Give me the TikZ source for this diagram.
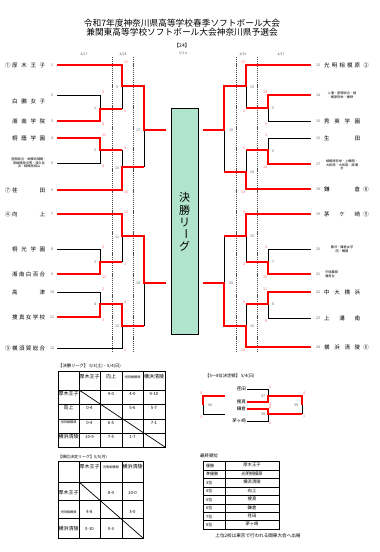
\documentclass[tikz,border=0pt]{standalone}
\usepackage{fontspec}
\setmainfont{Noto Sans CJK JP}
\definecolor{wr}{RGB}{255,0,0}
\definecolor{sc}{RGB}{255,95,95}
\definecolor{mn}{RGB}{95,95,95}
\definecolor{boxg}{RGB}{176,228,204}
\newcommand{\spr}[2]{\makebox[#1][s]{#2}}
\begin{document}
\begin{tikzpicture}[x=1pt,y=-1pt,
  win/.style={draw=wr,line width=1.8pt,line join=miter},
  los/.style={draw=black,line width=0.7pt},
  datesep/.style={draw=black!70,line width=0.6pt,dash pattern=on 1.2pt off 0.9pt},
  tnm/.style={font=\fontsize{5.5}{6}\selectfont,inner sep=0pt,anchor=west},
  tsm/.style={font=\fontsize{3.2}{3.6}\selectfont,inner sep=0pt,align=center},
  seed/.style={font=\fontsize{5.5}{6}\selectfont,inner sep=0pt},
  tno/.style={font=\fontsize{3.6}{4}\selectfont,text=mn,inner sep=0pt},
  mno/.style={font=\fontsize{3.6}{4}\selectfont,text=mn,inner sep=0pt},
  scr/.style={font=\fontsize{3.6}{4}\selectfont,text=sc,inner sep=0pt},
  dt/.style={font=\fontsize{3.4}{4}\selectfont,text=mn,inner sep=0pt},
  cell/.style={font=\fontsize{5}{6}\selectfont,inner sep=0pt},
  cellsm/.style={font=\fontsize{3.2}{4}\selectfont,inner sep=0pt},
  captx/.style={font=\fontsize{4.3}{5}\selectfont,inner sep=0pt,anchor=west},
  grid/.style={draw=black,line width=0.8pt}]
\useasboundingbox (0,0) rectangle (380,552);
\fill[white] (0,0) rectangle (380,552);
% titles
\node[font=\fontsize{8.7}{9}\selectfont,inner sep=0pt] (t1) at (182,23.5) {令和7年度神奈川県高等学校春季ソフトボール大会};
\node[font=\fontsize{8.7}{9}\selectfont,inner sep=0pt] (t2) at (182,32.5) {兼関東高等学校ソフトボール大会神奈川県予選会};
\node[font=\fontsize{5}{6}\selectfont,inner sep=0pt] (t3) at (182,45.5) {【24】};
\node[dt] (d0) at (183,53) {5/3.4};
\node[dt] (d1) at (84,54.5) {4/27};
\node[dt] (d2) at (123,54.5) {4/28};
\node[dt] (d3) at (243,54.5) {4/29};
\node[dt] (d4) at (281,54.5) {4/27};
% date separators
\foreach \x in {112,133,236,257} \draw[datesep] (\x,57) -- (\x,353);
% centre box
\node[draw=black,line width=0.8pt,fill=boxg,minimum width=27pt,minimum height=226pt,inner sep=0pt] (box) at (184.5,221) {};
\node[font=\fontsize{11}{11}\selectfont,inner sep=0pt] (k1) at (184.5,197) {決};
\node[font=\fontsize{11}{11}\selectfont,inner sep=0pt] (k2) at (184.5,210) {勝};
\node[font=\fontsize{11}{11}\selectfont,inner sep=0pt] (k3) at (184.5,222.5) {リ};
\node[font=\fontsize{11}{11}\selectfont,inner sep=0pt,rotate=-90] (k4) at (184.5,234) {ー};
\node[font=\fontsize{11}{11}\selectfont,inner sep=0pt] (k5) at (184.5,246) {グ};
% ---------- left losers (black)
\draw[los] (57,95) -- (100,95) -- (100,109);
\draw[los] (122,86) -- (122,109);
\draw[los] (57,163) -- (100,163) -- (100,150);
\draw[los] (122,150) -- (122,167);
\draw[los] (144,130) -- (144,167);
\draw[los] (57,249) -- (100,249) -- (100,262);
\draw[los] (122,236) -- (122,262);
\draw[los] (57,292) -- (100,292) -- (100,304);
\draw[los] (57,348) -- (122,348) -- (122,326);
\draw[los] (144,283) -- (144,326);
% ---------- right losers (black)
\draw[los] (311,121) -- (268,121) -- (268,108);
\draw[los] (246,86) -- (246,108);
\draw[los] (311,138) -- (268,138) -- (268,150);
\draw[los] (246,150) -- (246,172);
\draw[los] (224,130) -- (224,172);
\draw[los] (311,249) -- (268,249) -- (268,262);
\draw[los] (246,236) -- (246,262);
\draw[los] (311,318) -- (268,318) -- (268,304);
\draw[los] (246,304) -- (246,326);
\draw[los] (224,236) -- (224,283);
% ---------- left winners (red)
\draw[win] (57,65) -- (122,65) -- (122,86) -- (144,86) -- (144,130) -- (166,130);
\draw[win] (57,121) -- (100,121) -- (100,109) -- (122,109);
\draw[win] (57,138) -- (100,138) -- (100,150) -- (122,150);
\draw[win] (57,190) -- (122,190) -- (122,167) -- (144,167);
\draw[win] (57,214) -- (122,214) -- (122,236) -- (144,236) -- (144,283) -- (166,283);
\draw[win] (57,274) -- (100,274) -- (100,262) -- (122,262);
\draw[win] (57,317) -- (100,317) -- (100,304) -- (122,304) -- (122,326) -- (144,326);
% ---------- right winners (red)
\draw[win] (311,65) -- (246,65) -- (246,86) -- (224,86) -- (224,130) -- (203,130);
\draw[win] (311,95) -- (268,95) -- (268,108) -- (246,108);
\draw[win] (311,164) -- (268,164) -- (268,150) -- (246,150);
\draw[win] (311,189) -- (246,189) -- (246,172) -- (224,172);
\draw[win] (311,214) -- (246,214) -- (246,236) -- (224,236);
\draw[win] (311,274) -- (268,274) -- (268,262) -- (246,262);
\draw[win] (311,292) -- (268,292) -- (268,304) -- (246,304);
\draw[win] (311,347) -- (246,347) -- (246,326) -- (224,326) -- (224,283) -- (203,283);
% ---------- left team names
\node[seed] (s1) at (8,65) {①};
\node[tnm] (n1) at (12,65) {\spr{33pt}{厚\hfill 木\hfill 王\hfill 子}};
\node[tnm] (n2) at (12,101) {\spr{33pt}{白\hfill 鵬\hfill 女\hfill 子}};
\node[tnm] (n3) at (12,121) {\spr{33pt}{湘\hfill 南\hfill 学\hfill 院}};
\node[tnm] (n4) at (12,138) {\spr{33pt}{桐\hfill 蔭\hfill 学\hfill 園}};
\node[tsm] (n5) at (29,163) {座間総合・相模向陽館・\\県相模原中等・津久井\\浜・相模原城山};
\node[seed] (s6) at (8,190) {⑦};
\node[tnm] (n6) at (12,190) {\spr{33pt}{荏\hfill 田}};
\node[seed] (s7) at (8,214) {④};
\node[tnm] (n7) at (12,214) {\spr{33pt}{向\hfill 上}};
\node[tnm] (n8) at (12,249) {\spr{33pt}{桐\hfill 光\hfill 学\hfill 園}};
\node[tnm] (n9) at (12,274) {\spr{33pt}{湘\hfill 南\hfill 白\hfill 百\hfill 合}};
\node[tnm] (n10) at (12,292) {\spr{33pt}{高\hfill 津}};
\node[tnm] (n11) at (12,317) {\spr{33pt}{捜\hfill 真\hfill 女\hfill 学\hfill 校}};
\node[seed] (s12) at (8,348) {③};
\node[tnm] (n12) at (12,348) {\spr{33pt}{横\hfill 須\hfill 賀\hfill 総\hfill 合}};
% left team numbers
\foreach \n/\y in {1/65,2/95,3/121,4/138,5/163,6/190,7/214,8/249,9/274,10/292,11/317,12/348}
  \node[tno] (ln\n) at (52,\y) {\n};
% ---------- right team names
\node[tnm] (n13) at (324,65) {\spr{36pt}{光\hfill 明\hfill 相\hfill 模\hfill 原}};
\node[seed] (s13) at (366,65) {②};
\node[tsm] (n14) at (342,95) {上溝・座間総合・相\\模原弥栄・秦野};
\node[tnm] (n15) at (324,121) {\spr{36pt}{秀\hfill 英\hfill 学\hfill 園}};
\node[tnm] (n16) at (324,138) {\spr{36pt}{生\hfill 田}};
\node[tsm] (n17) at (342,165) {相模原弥栄・上鶴間・\\大和西・大和南・麻溝\\台};
\node[tnm] (n18) at (324,189) {\spr{36pt}{鎌\hfill 倉}};
\node[seed] (s18) at (366,189) {⑧};
\node[tnm] (n19) at (324,214) {\spr{36pt}{茅\hfill ケ\hfill 崎}};
\node[seed] (s19) at (366,214) {⑤};
\node[tsm] (n20) at (342,249) {藤沢・鎌倉女学\\院・鶴嶺};
\node[tsm,align=left,anchor=west] (n21) at (325,274) {平塚農商\\湘南台};
\node[tnm] (n22) at (324,292) {\spr{36pt}{中\hfill 大\hfill 横\hfill 浜}};
\node[tnm] (n23) at (324,318) {\spr{36pt}{上\hfill 溝\hfill 南}};
\node[tnm] (n24) at (324,347) {\spr{36pt}{横\hfill 浜\hfill 清\hfill 陵}};
\node[seed] (s24) at (366,347) {⑥};
\foreach \n/\y in {13/65,14/95,15/121,16/138,17/164,18/189,19/214,20/249,21/274,22/292,23/318,24/347}
  \node[tno] (rn\n) at (318,\y) {\n};
% ---------- match numbers
\foreach \t/\x/\y in {1/95/108,2/95/150,3/95/262,4/95/304,9/117/87,10/117/168,11/117/237,12/117/326,17/138/130,18/138/283,
  5/273/108,6/273/151,7/273/262,8/273/304,13/252/87,14/252/172,15/252/236,16/252/326,19/231/130,20/231/283}
  \node[mno] (m\t) at (\x,\y) {\t};
% ---------- scores
\foreach \t/\x/\y [count=\i] in {5/103/92,8/103/124,11/104/135,4/103/166,5/103/247,13/104/277,2/103/289,3/103/320,
  11/126/62,0/125/111,0/125/148,10/126/192,11/126/212,1/125/264,4/125/302,1/125/350,
  10/265/92,0/266/124,3/266/135,14/265/167,0/266/247,15/265/277,11/265/289,8/266/321,
  13/243/62,0/244/111,5/244/148,13/243/192,9/244/212,2/244/264,9/244/302,14/243/350}
  \node[scr] (sc\i) at (\x,\y) {\t};
% ---------- final league table
\node[captx] (tt1) at (58,366) {【決勝リーグ】 5/3(土)・5/4(日)};
\draw[grid] (58,371) rectangle (165,447);
\foreach \x in {79,100,122,143} \draw[grid] (\x,371) -- (\x,447);
\foreach \y in {390,404,419,433} \draw[grid] (58,\y) -- (165,\y);
\draw[line width=0.7pt] (79,390) -- (165,447);
\node[cell] (h1) at (89.5,377) {厚木王子};
\node[cell] (h2) at (111,377) {向上};
\node[cellsm] (h3) at (132.5,377) {光明相模原};
\node[cell] (h4) at (154,377) {横浜清陵};
\node[cell] (r1) at (68.5,393.5) {厚木王子};
\node[cell] (r2) at (68.5,408) {向上};
\node[cellsm] (r3) at (68.5,422.5) {光明相模原};
\node[cell] (r4) at (68.5,437) {横浜清陵};
\foreach \t/\x/\y [count=\i] in {4-0/111/393.5,4-0/132.5/393.5,9-10/154/393.5,
  0-4/89.5/408,5-6/132.5/408,5-7/154/408,
  0-4/89.5/422.5,6-5/111/422.5,7-1/154/422.5,
  10-9/89.5/437,7-5/111/437,1-7/132.5/437}
  \node[cell,font=\fontsize{4.3}{5}\selectfont] (a\i) at (\x,\y) {\t};
% ---------- ranking league table
\node[captx,font=\fontsize{4}{5}\selectfont] (tt2) at (58,457.5) {【順位決定リーグ】5/5(月)};
\draw[grid] (58,461) rectangle (143,538);
\foreach \x in {79,100,122} \draw[grid] (\x,461) -- (\x,538);
\foreach \y in {482,500,518} \draw[grid] (58,\y) -- (143,\y);
\draw[line width=0.7pt] (79,482) -- (143,538);
\node[cell] (g1) at (89.5,467) {厚木王子};
\node[cellsm] (g2) at (111,467) {光明相模原};
\node[cell] (g3) at (132.5,467) {横浜清陵};
\node[cell] (q1) at (68.5,493) {厚木王子};
\node[cellsm] (q2) at (68.5,512) {光明相模原};
\node[cell] (q3) at (68.5,529) {横浜清陵};
\foreach \t/\x/\y [count=\i] in {8-4/111/493,10-0/132.5/493,4-8/89.5/512,3-0/132.5/512,0-10/89.5/529,0-3/111/529}
  \node[cell,font=\fontsize{4.3}{5}\selectfont] (b\i) at (\x,\y) {\t};
% ---------- 5-8 bracket
\node[captx,font=\fontsize{4.3}{5}\selectfont] (tt3) at (205,376) {【5～8位決定戦】 5/4(日)};
\node[cell,anchor=east,font=\fontsize{4.5}{5}\selectfont] (p1) at (246,389) {荏田};
\node[cell,anchor=east,font=\fontsize{4.5}{5}\selectfont] (p2) at (246,402) {捜真};
\node[cell,anchor=east,font=\fontsize{4.5}{5}\selectfont] (p3) at (246,409) {鎌倉};
\node[cell,anchor=east,font=\fontsize{4.5}{5}\selectfont] (p4) at (246,421) {茅ヶ崎};
\draw[los] (247,389) -- (268,389) -- (268,396);
\draw[los] (247,421) -- (268,421) -- (268,414);
\draw[los] (302,405) -- (302,414);
\draw[los] (225,414) -- (203,414) -- (203,405);
\draw[win] (247,402) -- (268,402) -- (268,396) -- (302,396) -- (302,405);
\draw[win] (247,409) -- (268,409) -- (268,414) -- (302,414);
\draw[win] (225,396) -- (203,396) -- (203,405);
\node[mno] (m37) at (263,396) {37};
\node[mno] (m38) at (263,414) {38};
\node[mno] (m39) at (296,405) {39};
\node[mno] (m40) at (210,405) {40};
\node[scr] (e1) at (304,393) {4};
\node[scr] (e2) at (304,416) {1};
\node[scr] (e3) at (201,393) {5};
\node[scr] (e4) at (201,417) {3};
\node[scr] (e5) at (270,387) {1};
\node[scr] (e6) at (270,404) {4};
\node[scr] (e7) at (270,407) {6};
\node[scr] (e8) at (270,423) {0};
% ---------- final ranking
\node[captx,font=\fontsize{4.5}{5}\selectfont] (tt4) at (200,456) {最終順位};
\draw[grid] (203,461.7) rectangle (279,529.3);
\draw[grid] (225,461.7) -- (225,529.3);
\foreach \i in {1,...,7} \draw[grid] (203,461.7+8.45*\i) -- (279,461.7+8.45*\i);
\foreach \r/\nm [count=\i] in {優勝/厚木王子,準優勝/光明相模原,3位/横浜清陵,4位/向上,5位/捜真,6位/鎌倉,7位/荏田,8位/茅ヶ崎}{
  \node[cell,anchor=west,font=\fontsize{4}{5}\selectfont] (rk\i) at (206,461.7+8.45*\i-4.2) {\r};
  \node[cell,font=\fontsize{4.3}{5}\selectfont] (rn\i) at (252,461.7+8.45*\i-5) {\nm};
}
\node[font=\fontsize{4.6}{5}\selectfont,inner sep=0pt] (ft) at (258,536) {上位2校は東京で行われる関東大会へ出場};
\end{tikzpicture}
\end{document}
